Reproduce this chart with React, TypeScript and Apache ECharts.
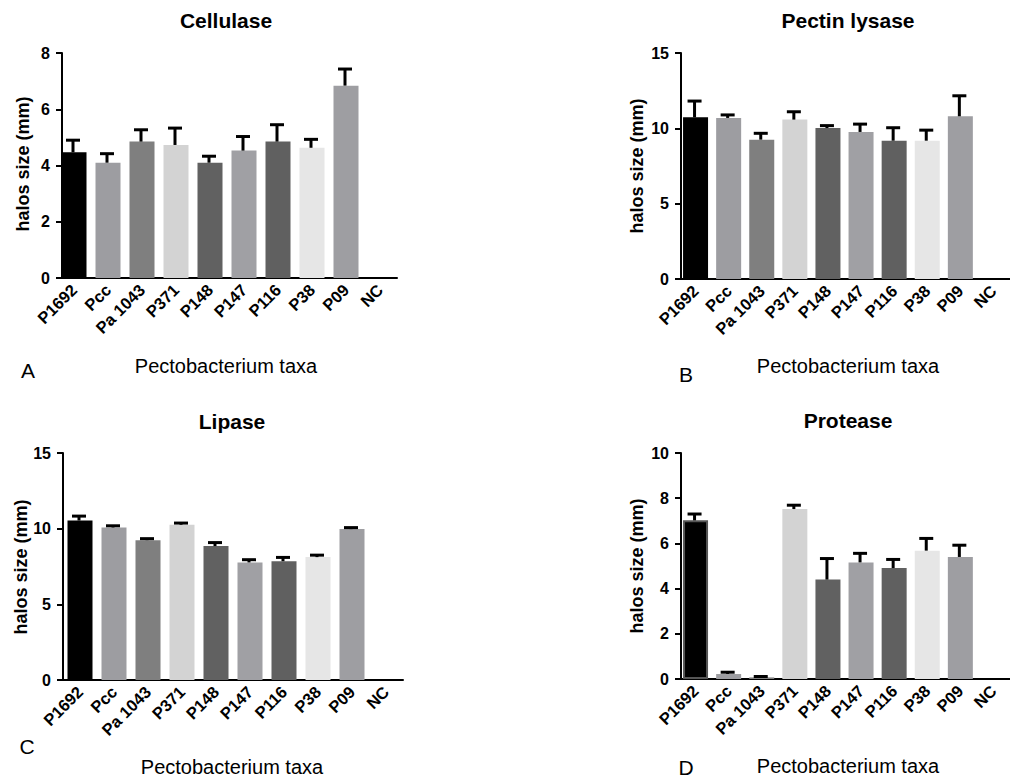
import React, { useEffect, useRef } from "react";
import * as echarts from "echarts";

const categories = ["P1692", "Pcc", "Pa 1043", "P371", "P148", "P147", "P116", "P38", "P09", "NC"];
const barColors = ["#000000", "#9d9da1", "#7f7f7f", "#d3d3d3", "#616161", "#a0a0a4", "#606060", "#e6e6e6", "#9e9ea2", "#9e9ea2"];

const cellulaseMeans = [4.47, 4.1, 4.85, 4.73, 4.1, 4.53, 4.85, 4.63, 6.84, 0];
const cellulaseErrors = [0.43, 0.32, 0.42, 0.6, 0.23, 0.5, 0.6, 0.3, 0.59, 0];

const pectinMeans = [10.73, 10.69, 9.25, 10.58, 10.02, 9.76, 9.18, 9.18, 10.8, 0];
const pectinErrors = [1.08, 0.2, 0.42, 0.52, 0.16, 0.52, 0.86, 0.7, 1.36, 0];

const lipaseMeans = [10.54, 10.08, 9.24, 10.26, 8.85, 7.77, 7.85, 8.12, 9.97, 0];
const lipaseErrors = [0.29, 0.11, 0.1, 0.11, 0.23, 0.18, 0.25, 0.13, 0.1, 0];

const proteaseMeans = [7.02, 0.22, 0.07, 7.52, 4.4, 5.16, 4.91, 5.68, 5.4, 0];
const proteaseErrors = [0.28, 0.08, 0.04, 0.17, 0.93, 0.4, 0.38, 0.54, 0.52, 0];

const titles = ["Cellulase", "Pectin lysase", "Lipase", "Protease"];
const panelLetters = ["A", "B", "C", "D"];
const yMaxes = [8, 15, 15, 10];
const yIntervals = [2, 5, 5, 2];
const xAxisTitle = "Pectobacterium taxa";
const yAxisTitle = "halos size (mm)";

const FONT = "Liberation Sans, Arial, sans-serif";

export default function App() {
  const ref = useRef<HTMLDivElement>(null);
  useEffect(() => {
    document.body.style.margin = "0";
    if (!ref.current) return;
    const chart = echarts.init(ref.current, undefined, { renderer: "svg" });

    const means = [cellulaseMeans, pectinMeans, lipaseMeans, proteaseMeans];
    const errors = [cellulaseErrors, pectinErrors, lipaseErrors, proteaseErrors];

    const layout = [
      { left: 57, top: 53, height: 225, offset: -5, titleX: 226, titleY: 20, yLabX: 23, yLabY: 164, xTitleX: 226, xTitleY: 366, letterX: 28, letterY: 370 },
      { left: 679, top: 53, height: 226, offset: -2, titleX: 848, titleY: 20, yLabX: 637, yLabY: 166, xTitleX: 848, xTitleY: 366, letterX: 686, letterY: 374 },
      { left: 63, top: 453, height: 227, offset: 0, titleX: 232, titleY: 421, yLabX: 21, yLabY: 567, xTitleX: 232, xTitleY: 767, letterX: 27, letterY: 746 },
      { left: 679, top: 453, height: 226, offset: -2, titleX: 848, titleY: 420, yLabX: 637, yLabY: 566, xTitleX: 848, xTitleY: 766, letterX: 686, letterY: 767 },
    ];

    const grids: any[] = [];
    const xAxes: any[] = [];
    const yAxes: any[] = [];
    const series: any[] = [];
    const graphics: any[] = [];

    layout.forEach((L, i) => {
      grids.push({ left: L.left, top: L.top, width: 340, height: L.height, containLabel: false });
      xAxes.push({
        type: "category",
        gridIndex: i,
        data: categories,
        boundaryGap: true,
        axisLine: { lineStyle: { color: "#000", width: 2 } },
        axisTick: { alignWithLabel: true, length: 6, lineStyle: { color: "#000", width: 2 } },
        axisLabel: {
          rotate: 45,
          margin: 9,
          color: "#000",
          fontWeight: "bold",
          fontSize: 16.5,
          fontFamily: FONT,
          interval: 0,
        },
        splitLine: { show: false },
      });
      yAxes.push({
        type: "value",
        gridIndex: i,
        min: 0,
        max: yMaxes[i],
        interval: yIntervals[i],
        offset: L.offset,
        axisLine: { show: true, lineStyle: { color: "#000", width: 2 } },
        axisTick: { show: true, length: 6, lineStyle: { color: "#000", width: 2 } },
        axisLabel: { color: "#000", fontWeight: "bold", fontSize: 16, fontFamily: FONT, margin: 12 },
        splitLine: { show: false },
      });
      series.push({
        type: "bar",
        xAxisIndex: i,
        yAxisIndex: i,
        barWidth: 25,
        data: means[i].map((v, k) => ({
          value: v,
          itemStyle: {
            color: barColors[k],
            borderColor: i === 3 && k === 0 ? "#555555" : undefined,
            borderWidth: i === 3 && k === 0 ? 2 : 0,
          },
        })),
        z: 2,
      });
      series.push({
        type: "custom",
        xAxisIndex: i,
        yAxisIndex: i,
        z: 3,
        encode: { x: 0, y: 1 },
        data: means[i]
          .map((v, k) => [k, v, errors[i][k]])
          .filter((d) => d[2] > 0),
        renderItem: (params: any, api: any) => {
          const x = api.value(0);
          const y = api.value(1);
          const e = api.value(2);
          const base = api.coord([x, y]);
          const top = api.coord([x, y + e]);
          const cx = base[0] - 1;
          return {
            type: "group",
            children: [
              { type: "line", shape: { x1: cx, y1: base[1], x2: cx, y2: top[1] }, style: { stroke: "#000", lineWidth: 3 } },
              { type: "line", shape: { x1: cx - 7, y1: top[1], x2: cx + 7, y2: top[1] }, style: { stroke: "#000", lineWidth: 3 } },
            ],
          };
        },
      });

      graphics.push({
        type: "text",
        x: L.titleX,
        y: L.titleY,
        style: { text: titles[i], fill: "#000", font: `bold 21px ${FONT}`, align: "center", verticalAlign: "middle" },
      });
      graphics.push({
        type: "text",
        x: L.yLabX,
        y: L.yLabY,
        rotation: Math.PI / 2,
        style: { text: yAxisTitle, fill: "#000", font: `bold 18px ${FONT}`, align: "center", verticalAlign: "middle" },
      });
      graphics.push({
        type: "text",
        x: L.xTitleX,
        y: L.xTitleY,
        style: { text: xAxisTitle, fill: "#000", font: `20px ${FONT}`, align: "center", verticalAlign: "middle" },
      });
      graphics.push({
        type: "text",
        x: L.letterX,
        y: L.letterY,
        style: { text: panelLetters[i], fill: "#000", font: `21px ${FONT}`, align: "center", verticalAlign: "middle" },
      });
    });

    chart.setOption({
      animation: false,
      backgroundColor: "#ffffff",
      grid: grids,
      xAxis: xAxes,
      yAxis: yAxes,
      series,
      graphic: graphics,
    });
    return () => chart.dispose();
  }, []);
  return <div ref={ref} style={{ width: 1010, height: 778 }} />;
}
